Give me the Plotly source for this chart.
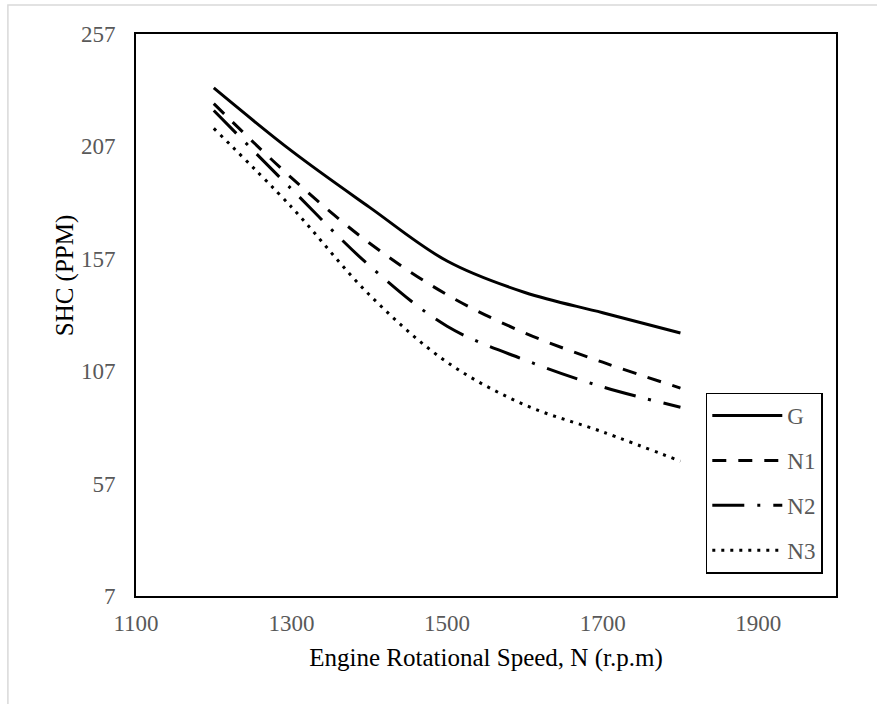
import plotly.graph_objects as go

speed = [1200, 1300, 1400, 1500, 1600, 1700, 1800]
G = [233, 205, 180, 156, 142, 133, 124]
N1 = [226, 193, 164, 141, 124, 111, 99.5]
N2 = [223, 188, 154, 127, 112, 100, 91]
N3 = [215, 180, 141, 111, 92, 80, 67]

series = [("G", G, "solid"), ("N1", N1, "14px,12px"),
          ("N2", N2, "32px,13px,3px,13px"), ("N3", N3, "3px,6px")]

fig = go.Figure()
for name, vals, dash in series:
    fig.add_trace(go.Scatter(x=speed, y=vals, name=name, mode="lines", legendgroup=name,
                             line=dict(color="black", width=3, dash=dash, shape="spline")))

axis_font = dict(family="Liberation Serif", size=23, color="#595959")
title_font = dict(family="Liberation Serif", size=25, color="black")
fig.update_layout(
    width=877, height=704,
    margin=dict(l=136, r=41, t=34, b=108),
    plot_bgcolor="white", paper_bgcolor="white",
    showlegend=True,
    legend=dict(x=0.814, y=0.362, xanchor="left", yanchor="top",
                bordercolor="black", borderwidth=1.5, bgcolor="white",
                font=dict(family="Liberation Serif", size=23, color="#595959"),
                itemwidth=70, tracegroupgap=12),
    xaxis=dict(range=[1100, 2000], tickvals=[1100, 1300, 1500, 1700, 1900],
               showgrid=False, zeroline=False, showline=True, mirror=True,
               linecolor="black", linewidth=2, ticks="", tickfont=axis_font,
               ticklabelstandoff=5,
               title=dict(text="Engine Rotational Speed, N (r.p.m)", font=title_font,
                          standoff=14)),
    yaxis=dict(range=[7, 257], tickvals=[7, 57, 107, 157, 207, 257],
               showgrid=False, zeroline=False, showline=True, mirror=True,
               linecolor="black", linewidth=2, ticks="", tickfont=axis_font,
               ticklabelstandoff=14),
    annotations=[dict(text="SHC (PPM)", xref="paper", yref="paper",
                      x=-0.102, y=0.57, xanchor="center", yanchor="middle",
                      textangle=-90, showarrow=False, font=title_font)],
    shapes=[dict(type="rect", xref="paper", yref="paper",
                 x0=-0.183, x1=1.07, y0=-0.21, y1=1.0516,
                 line=dict(color="#d9d9d9", width=1.5), layer="below")],
)

fig.write_html("out.html")
